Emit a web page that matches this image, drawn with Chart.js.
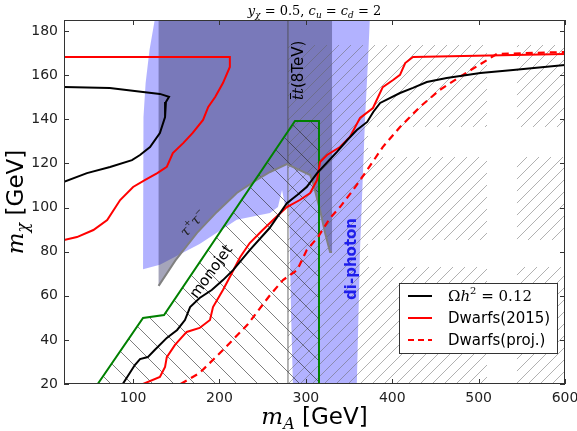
<!DOCTYPE html>
<html>
<head>
<meta charset="utf-8">
<script src="https://cdn.jsdelivr.net/npm/chart.js@4.4.0/dist/chart.umd.min.js"></script>
<style>
body { margin: 0; background: #fff; }
#wrap { width: 577px; height: 431px; }
</style>
</head>
<body>
<div id="wrap"><canvas id="relic-chart"></canvas></div>
<script>
// ticks
var xTicks = [100, 200, 300, 400, 500, 600];
var yTicks = [20, 40, 60, 80, 100, 120, 140, 160, 180];

// Omega h^2 = 0.12 contour, [mA, mchi]
var relicUpper = [[20,154.6],[73,154.2],[111.5,152.4],[131,151.5],[141.6,150.2],[138,147.8],[137,141],[131,133.8],[119.6,127.4],[108,123.8],[98.7,121.5],[73.3,118.4],[46.6,115.6],[20,111.6]];
var relicMain = [[88,20],[102,28.6],[108,31.3],[117,32.2],[125,35.4],[139,40.9],[151,44.5],[160,49],[166,54.9],[177,59],[191,62.6],[204,67.1],[216,71.7],[235,80.7],[258,90.7],[278,102],[290,105.7],[301,109.3],[313,115.6],[324,120.2],[336,125.2],[348,130.6],[359,135.1],[371,138.8],[378,143.3],[386,147.4],[409,151.9],[424,154.2],[440,156.9],[463,158.7],[502,161],[540,162.3],[600,164.6]];

// dwarfs 2015
var dwarfsUpper = [[20,168.2],[212,168.2],[212,163.7],[204,156.4],[195,150.1],[187,145.6],[181,139.7],[169,133.8],[158,129.2],[146,124.7],[139,118.4],[128,115.6],[114,112.5],[100,109.3],[85,103.4],[70,94.3],[54,89.8],[35,86.6],[20,85.3]];
var dwarfsMain = [[111.5,20],[131,23.2],[137,27.7],[139,32.2],[148.5,37.7],[162,43.6],[177,45.4],[189,49],[192.5,54.9],[204,62.6],[212,68.5],[224,77.6],[235,83.9],[250,89.8],[262,94.3],[278,100.2],[293,103.4],[305,106.6],[313,112.5],[316.4,120.6],[324.5,123.8],[339.5,127.4],[351,132],[362.7,140.6],[377.7,145.1],[389,154.6],[401,157.8],[409,160.1],[415,165.5],[424,168.2],[600,169.6]];

// dwarfs projection
var dwarfsProj = [[155,20],[177,25],[204,35.4],[232,46.7],[258.5,60.3],[273.5,67.1],[290,71.7],[301,80.7],[314,86.6],[328,95.2],[339.5,100.2],[354.6,107.9],[371,117],[389,127.4],[409,136.5],[432,145.6],[455,153.3],[478,159.2],[510,166.9],[521,169.6],[600,170.5]];

// excluded regions
var monojetBox = [[59,20],[111.5,49.9],[135.8,51.3],[287.4,139.2],[315.2,139.2],[315.2,20]];
var tauBox = [[129.5,185],[129.5,64.5],[149,76],[174,88.5],[197,98],[220,106.6],[243,112.5],[258.5,116.1],[278,119.7],[305,114.7],[308.3,111.1],[316.4,98.9],[322.2,88.5],[328,79.8],[330.3,79.8],[330.3,185]];
var lightBlueBox = [[125,185],[119,171.4],[114.5,156.4],[112,141],[111.5,100],[111.5,72],[131,74],[177,83.5],[220,94.5],[258.5,97.5],[267.7,100.2],[272.4,107.9],[275.8,101.1],[280,99.8],[280,185]];
var diphotonBox = [[285,20],[283,50],[280.5,100],[280,185],[374,185],[372,167],[368.5,140],[362.7,81],[359,20]];
var ttbarLine = [[279.3,20],[279.3,185]];
// hatched cells [x0, x1, y0, y1]
var ttbarCells = [[279.3,372,20,173.7],[372,509.7,136.5,173.7],[372,509.7,85.3,122.9],[372,509.7,20,73],[544.4,600,136.5,173.7],[544.4,600,85.3,122.9],[544.4,600,20,73]];

function pts(arr) {
    return arr.map(function(p) { return {x: p[0], y: p[1]}; });
}

function makeHatch(size, color, width, dir) {
    var c = document.createElement('canvas');
    c.width = size; c.height = size;
    var g = c.getContext('2d');
    g.strokeStyle = color;
    g.lineWidth = width;
    g.beginPath();
    for (var k = -size; k <= size; k += size) {
        if (dir === '/') { g.moveTo(k, size); g.lineTo(k + size, 0); }
        else { g.moveTo(k, 0); g.lineTo(k + size, size); }
    }
    g.stroke();
    return g.createPattern(c, 'repeat');
}

var hatchSlash = makeHatch(12, 'rgba(100,100,100,0.5)', 1, '/');
var hatchBack = makeHatch(21, 'rgba(40,40,40,0.6)', 1, '\\');

function lineSet(label, arr, color, width, dash, order) {
    return {
        label: label, data: pts(arr), borderColor: color, borderWidth: width,
        borderDash: dash || [], pointRadius: 0, fill: false, tension: 0, order: order
    };
}

function fillSet(label, arr, bg, order) {
    var d = arr.slice(); d.push(arr[0]);
    return {
        label: label, data: pts(d), backgroundColor: bg, borderColor: 'rgba(0,0,0,0)',
        borderWidth: 0, pointRadius: 0, fill: 'shape', tension: 0, order: order
    };
}

var datasets = [
    fillSet('blue region', lightBlueBox, 'rgba(0,0,255,0.3)', 20),
    fillSet('di-photon', diphotonBox, 'rgba(0,0,255,0.3)', 19),
    fillSet('tau tau', tauBox, 'rgba(40,40,90,0.42)', 18)
];
ttbarCells.forEach(function(c, i) {
    datasets.push(fillSet('ttbar hatch ' + i, [[c[0],c[2]],[c[1],c[2]],[c[1],c[3]],[c[0],c[3]]], hatchSlash, 17));
});
datasets.push(fillSet('monojet hatch', monojetBox, hatchBack, 16));
datasets.push(lineSet('ttbar 8TeV', ttbarLine, 'rgba(70,70,70,0.8)', 1, null, 15));
datasets.push(lineSet('tau edge', tauBox.slice(1, 15), 'rgb(128,128,128)', 2, null, 14));
datasets.push(lineSet('monojet', monojetBox, 'rgb(0,128,0)', 2, null, 13));
datasets.push(lineSet('Dwarfs(proj.)', dwarfsProj, 'rgb(255,0,0)', 2.2, [7, 5], 12));
datasets.push(lineSet('Dwarfs(2015)', dwarfsUpper, 'rgb(255,0,0)', 2, null, 11));
datasets.push(lineSet('Dwarfs(2015) b', dwarfsMain, 'rgb(255,0,0)', 2, null, 10));
datasets.push(lineSet('relic', relicUpper, '#000', 2, null, 9));
datasets.push(lineSet('relic b', relicMain, '#000', 2, null, 8));

var SERIF = "'DejaVu Serif'";
var SANS = "'DejaVu Sans'";

function drawRuns(ctx, runs, x, y, align) {
    var w = 0;
    runs.forEach(function(r) { ctx.font = r.f; r.w = ctx.measureText(r.t).width; w += r.w; });
    var cx = align === 'center' ? x - w / 2 : x;
    runs.forEach(function(r) { ctx.font = r.f; ctx.fillText(r.t, cx, y + (r.dy || 0)); r.x = cx; cx += r.w; });
    return w;
}

var decor = {
    id: 'decor',
    afterDraw: function(chart) {
        var ctx = chart.ctx, a = chart.chartArea;
        var xs = chart.scales.x, ys = chart.scales.y;
        var cxm = (a.left + a.right) / 2, cym = (a.top + a.bottom) / 2;
        ctx.save();
        ctx.textAlign = 'left';
        ctx.textBaseline = 'alphabetic';
        ctx.fillStyle = '#000';

        // monojet
        ctx.save();
        ctx.translate(xs.getPixelForValue(191), ys.getPixelForValue(70.8));
        ctx.rotate(-54 * Math.PI / 180);
        ctx.font = '15px ' + SANS;
        ctx.textAlign = 'center'; ctx.textBaseline = 'middle';
        ctx.fillText('monojet', 0, 0);
        ctx.restore();

        // tau tau
        ctx.save();
        ctx.translate(xs.getPixelForValue(169), ys.getPixelForValue(93));
        ctx.rotate(-47 * Math.PI / 180);
        ctx.fillStyle = '#222';
        drawRuns(ctx, [
            {t: 'τ', f: 'italic 14px ' + SERIF, dy: 5},
            {t: '+', f: '9px ' + SERIF, dy: -1},
            {t: 'τ', f: 'italic 14px ' + SERIF, dy: 5},
            {t: '−', f: '9px ' + SERIF, dy: -1}
        ], 0, 0, 'center');
        ctx.restore();

        // ttbar label
        ctx.save();
        ctx.translate(xs.getPixelForValue(296.7), ys.getPixelForValue(148.7));
        ctx.rotate(-Math.PI / 2);
        var tr = [
            {t: 't', f: 'italic 15px ' + SERIF},
            {t: 't', f: 'italic 15px ' + SERIF},
            {t: '(8TeV)', f: '15px ' + SANS}
        ];
        drawRuns(ctx, tr, 0, 0, 'left');
        ctx.strokeStyle = '#000'; ctx.lineWidth = 1;
        ctx.beginPath(); ctx.moveTo(tr[0].x + 1, -12.5); ctx.lineTo(tr[0].x + tr[0].w + 1, -12.5); ctx.stroke();
        ctx.restore();

        // di-photon label
        ctx.save();
        ctx.translate(xs.getPixelForValue(358), ys.getPixelForValue(58.1));
        ctx.rotate(-Math.PI / 2);
        ctx.font = 'bold 15px ' + SANS;
        ctx.fillStyle = 'rgb(30,30,235)';
        ctx.fillText('di-photon', 0, 0);
        ctx.restore();

        // title
        var sub = 'italic 9px ' + SERIF, mi = 'italic 13px ' + SERIF, up = '13px ' + SERIF;
        drawRuns(ctx, [
            {t: 'y', f: mi}, {t: 'χ', f: sub, dy: 3}, {t: ' = 0.5, ', f: up},
            {t: 'c', f: mi}, {t: 'u', f: sub, dy: 3}, {t: ' = ', f: up},
            {t: 'c', f: mi}, {t: 'd', f: sub, dy: 3}, {t: ' = 2', f: up}
        ], cxm, 15, 'center');

        // x label
        drawRuns(ctx, [
            {t: 'm', f: 'italic 23px ' + SERIF},
            {t: 'A', f: 'italic 16px ' + SERIF, dy: 5},
            {t: ' [GeV]', f: '23px ' + SANS}
        ], cxm, 424, 'center');

        // y label
        ctx.save();
        ctx.translate(23, cym);
        ctx.rotate(-Math.PI / 2);
        drawRuns(ctx, [
            {t: 'm', f: 'italic 23px ' + SERIF},
            {t: 'χ', f: 'italic 16px ' + SERIF, dy: 5},
            {t: ' [GeV]', f: '23px ' + SANS}
        ], 0, 0, 'center');
        ctx.restore();

        // legend
        var bw = 158, bh = 70;
        var bx = a.right - 8 - bw, by = a.bottom - 31 - bh;
        ctx.fillStyle = '#fff';
        ctx.fillRect(bx, by, bw, bh);
        ctx.strokeStyle = '#333'; ctx.lineWidth = 1;
        ctx.strokeRect(bx + 0.5, by + 0.5, bw, bh);
        var rows = [
            {c: '#000', d: []}, {c: 'rgb(255,0,0)', d: []}, {c: 'rgb(255,0,0)', d: [6, 4]}
        ];
        rows.forEach(function(r, i) {
            var yy = by + 13 + i * 22;
            ctx.strokeStyle = r.c; ctx.lineWidth = 2; ctx.setLineDash(r.d);
            ctx.beginPath(); ctx.moveTo(bx + 9, yy); ctx.lineTo(bx + 33, yy); ctx.stroke();
        });
        ctx.setLineDash([]);
        ctx.fillStyle = '#000';
        drawRuns(ctx, [
            {t: 'Ω', f: '15px ' + SERIF}, {t: 'h', f: 'italic 15px ' + SERIF},
            {t: '2', f: '10px ' + SERIF, dy: -7}, {t: ' = 0.12', f: '15px ' + SERIF}
        ], bx + 49, by + 18, 'left');
        ctx.font = '15px ' + SANS;
        ctx.fillText('Dwarfs(2015)', bx + 49, by + 40);
        ctx.fillText('Dwarfs(proj.)', bx + 49, by + 62);

        // frame and inward ticks
        ctx.strokeStyle = '#333'; ctx.lineWidth = 1;
        ctx.strokeRect(a.left + 0.5, a.top + 0.5, a.right - a.left - 1, a.bottom - a.top - 1);
        ctx.beginPath();
        xTicks.forEach(function(v) {
            var px = Math.round(xs.getPixelForValue(v)) + 0.5;
            ctx.moveTo(px, a.bottom); ctx.lineTo(px, a.bottom - 5);
            ctx.moveTo(px, a.top); ctx.lineTo(px, a.top + 5);
        });
        yTicks.forEach(function(v) {
            var py = Math.round(ys.getPixelForValue(v)) + 0.5;
            ctx.moveTo(a.left, py); ctx.lineTo(a.left + 5, py);
            ctx.moveTo(a.right, py); ctx.lineTo(a.right - 5, py);
        });
        ctx.stroke();
        ctx.restore();
    }
};

var relic_chart = new Chart(document.getElementById('relic-chart').getContext('2d'), {
    type: 'line',
    data: { datasets: datasets },
    options: {
        responsive: true,
        maintainAspectRatio: false,
        animation: false,
        layout: { padding: { top: 20, right: 12, left: 0, bottom: 0 } },
        scales: {
            x: {
                type: 'linear', min: 20, max: 600,
                grid: { display: false, drawTicks: false },
                border: { display: false },
                ticks: { font: { family: 'DejaVu Sans', size: 14 }, color: '#222', padding: 6, maxRotation: 0 },
                afterBuildTicks: function(s) { s.ticks = xTicks.map(function(v) { return {value: v}; }); },
                afterFit: function(s) { s.height = 47; s.paddingLeft = 0; s.paddingRight = 0; }
            },
            y: {
                type: 'linear', min: 20, max: 185,
                grid: { display: false, drawTicks: false },
                border: { display: false },
                ticks: { font: { family: 'DejaVu Sans', size: 14 }, color: '#222', padding: 6 },
                afterBuildTicks: function(s) { s.ticks = yTicks.map(function(v) { return {value: v}; }); },
                afterFit: function(s) { s.width = 64; s.paddingTop = 0; s.paddingBottom = 0; }
            }
        },
        plugins: {
            legend: { display: false },
            tooltip: { enabled: false }
        }
    },
    plugins: [decor]
});
</script>
</body>
</html>
